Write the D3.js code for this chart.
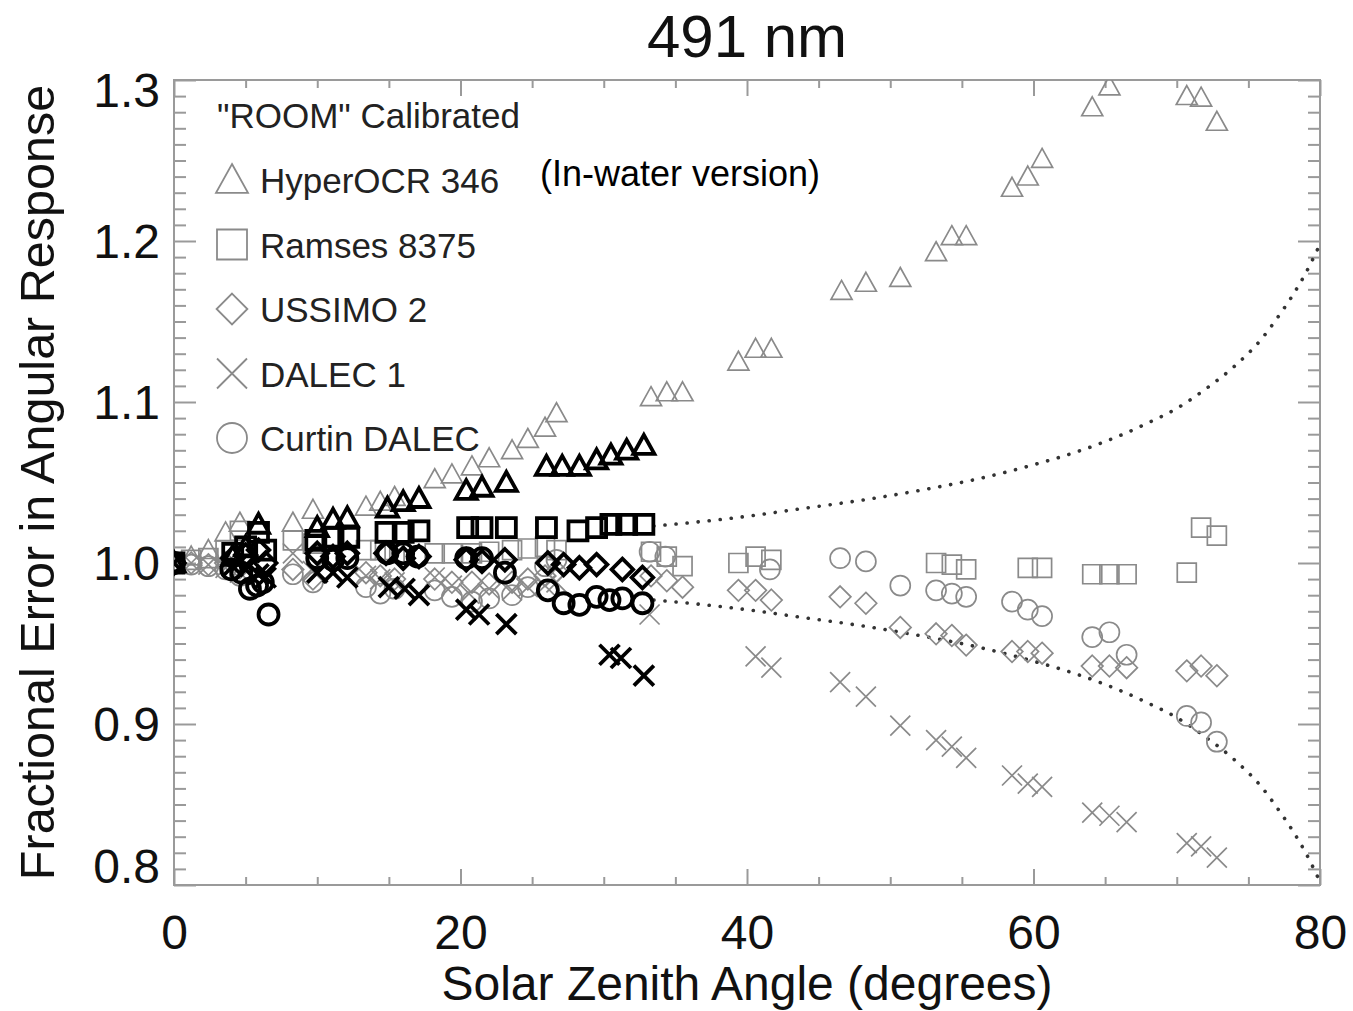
<!DOCTYPE html>
<html>
<head>
<meta charset="utf-8">
<script src="https://cdn.jsdelivr.net/npm/d3@7"></script>
<style>
  html, body { margin: 0; padding: 0; background: #fff; }
  svg { display: block; }
</style>
</head>
<body>
<svg id="chart" width="1353" height="1011"></svg>
<script>
// ---------------- DATA ----------------
const titleText = "491 nm";
const xLabel = "Solar Zenith Angle (degrees)";
const yLabel = "Fractional Error in Angular Response";
const legendTitle = "\"ROOM\" Calibrated";
const noteText = "(In-water version)";
const seriesNames = ["HyperOCR 346", "Ramses 8375", "USSIMO 2", "DALEC 1", "Curtin DALEC"];
const seriesShapes = ["triangle", "square", "diamond", "times", "circle"];

const xTicks = [0, 20, 40, 60, 80];
const xMinorTicks = [5, 10, 15, 25, 30, 35, 45, 50, 55, 65, 70, 75];
const yTicks = [0.8, 0.9, 1.0, 1.1, 1.2, 1.3];
const yTickLabels = ["0.8", "0.9", "1.0", "1.1", "1.2", "1.3"];

// "ROOM" calibrated (thin grey symbols): [angle, fractional error]
const roomHyperOCR = [[0,1.0],[1.2,1.004],[2.4,1.008],[3.6,1.019],[4.6,1.025],[8.3,1.025],[9.7,1.033],[13.4,1.035],[14.4,1.038],[15.4,1.041],[18.2,1.052],[19.4,1.055],[20.8,1.060],[22.0,1.065],[23.6,1.070],[24.7,1.077],[25.9,1.084],[26.7,1.093],[33.3,1.103],[34.4,1.106],[35.5,1.106],[39.4,1.125],[40.6,1.133],[41.7,1.133],[46.6,1.169],[48.3,1.174],[50.7,1.177],[53.2,1.193],[54.3,1.203],[55.3,1.203],[58.5,1.233],[59.6,1.240],[60.6,1.251],[64.1,1.283],[65.3,1.296],[66.5,1.306],[70.7,1.290],[71.7,1.289],[72.8,1.274]];
const roomRamses = [[0,1.0],[1.2,1.002],[2.4,1.003],[3.6,1.008],[4.6,1.020],[8.3,1.014],[9.7,1.012],[13.4,1.008],[14.4,1.008],[15.4,1.006],[18.2,1.006],[19.4,1.006],[20.8,1.006],[22.0,1.007],[23.6,1.008],[24.7,1.009],[25.9,1.010],[26.7,1.008],[33.3,1.007],[34.4,1.004],[35.5,0.998],[39.4,1.000],[40.6,1.004],[41.7,1.002],[53.2,1.000],[54.3,0.999],[55.3,0.996],[59.6,0.997],[60.6,0.997],[64.1,0.993],[65.3,0.993],[66.5,0.993],[70.7,0.994],[71.7,1.022],[72.8,1.017]];
const roomUssimo = [[0,1.0],[1.2,1.0],[2.4,0.999],[3.6,1.0],[4.6,0.997],[8.3,0.996],[9.7,0.990],[13.4,0.994],[14.4,0.992],[15.4,0.990],[18.2,0.990],[19.4,0.988],[20.8,0.988],[22.0,0.987],[23.6,0.988],[24.7,0.990],[25.9,0.992],[26.7,0.995],[33.3,0.992],[34.4,0.989],[35.5,0.985],[39.4,0.983],[40.6,0.983],[41.7,0.977],[46.5,0.979],[48.3,0.975],[50.7,0.960],[53.2,0.956],[54.3,0.955],[55.3,0.949],[58.5,0.945],[59.6,0.945],[60.6,0.944],[64.1,0.936],[65.3,0.936],[66.5,0.935],[70.7,0.933],[71.7,0.936],[72.8,0.930]];
const roomDalec1 = [[0,1.0],[1.2,1.0],[2.4,0.999],[3.6,0.997],[4.6,0.994],[8.3,1.006],[9.7,0.995],[13.4,0.992],[14.4,0.990],[15.4,0.988],[18.2,0.991],[19.4,0.986],[20.6,0.981],[22.0,0.984],[23.6,0.983],[24.7,0.985],[25.9,0.986],[26.7,0.988],[33.2,0.968],[40.6,0.942],[41.7,0.935],[46.5,0.926],[48.3,0.917],[50.7,0.899],[53.2,0.890],[54.3,0.886],[55.3,0.879],[58.5,0.868],[59.6,0.863],[60.6,0.861],[64.1,0.845],[65.3,0.843],[66.5,0.839],[70.7,0.826],[71.7,0.824],[72.8,0.817]];
const roomCurtin = [[0,1.0],[1.2,0.999],[2.4,0.998],[3.6,0.996],[4.6,0.992],[8.3,0.993],[9.7,0.988],[13.4,0.985],[14.4,0.981],[15.4,0.984],[18.2,0.983],[19.4,0.979],[20.8,0.976],[22.0,0.978],[23.6,0.980],[24.7,0.985],[25.9,0.998],[26.7,1.002],[33.2,1.007],[34.3,1.004],[41.6,0.996],[46.5,1.003],[48.3,1.001],[50.7,0.986],[53.2,0.983],[54.3,0.981],[55.3,0.979],[58.5,0.976],[59.6,0.971],[60.6,0.967],[64.1,0.954],[65.3,0.957],[66.5,0.943],[70.7,0.905],[71.7,0.901],[72.8,0.889]];

// In-water (bold black symbols)
const waterHyperOCR = [[0,1.0],[4.1,1.004],[5.0,1.010],[5.9,1.024],[10.0,1.022],[11.1,1.027],[12.1,1.028],[14.9,1.034],[16.0,1.038],[17.1,1.040],[20.4,1.045],[21.5,1.047],[23.2,1.050],[26.0,1.060],[27.1,1.060],[28.3,1.060],[29.5,1.064],[30.5,1.067],[31.6,1.070],[32.8,1.073]];
const waterRamses = [[0,1.0],[4.1,1.006],[5.0,1.010],[5.9,1.019],[6.4,1.008],[9.9,1.014],[11.1,1.016],[12.2,1.016],[14.8,1.019],[16.0,1.019],[17.1,1.020],[20.5,1.022],[21.5,1.022],[23.2,1.022],[26.0,1.022],[28.2,1.020],[29.5,1.022],[30.5,1.024],[31.6,1.024],[32.8,1.024]];
const waterUssimo = [[0,1.0],[4.1,1.003],[5.0,1.005],[5.9,1.008],[6.4,1.0],[10.0,1.006],[11.1,1.004],[12.1,1.006],[14.8,1.006],[16.0,1.003],[17.1,1.004],[20.4,1.002],[21.5,1.001],[23.1,1.002],[26.1,1.000],[27.2,0.999],[28.3,0.997],[29.5,0.999],[31.3,0.996],[32.7,0.991]];
const waterDalec1 = [[0,1.0],[4.1,0.998],[5.0,0.996],[5.9,0.993],[6.4,0.991],[10.0,0.994],[11.1,0.994],[12.1,0.991],[15.0,0.985],[16.1,0.984],[17.1,0.980],[20.4,0.971],[21.3,0.968],[23.2,0.962],[30.4,0.943],[31.2,0.941],[32.8,0.930]];
const waterCurtin = [[0,1.0],[4.0,0.996],[4.7,0.994],[5.3,0.984],[5.8,0.986],[6.2,0.988],[6.6,0.968],[10.0,1.003],[11.1,1.002],[12.1,1.003],[14.9,1.006],[16.0,1.006],[17.0,1.004],[20.4,1.003],[21.5,1.003],[23.1,0.994],[26.1,0.983],[27.2,0.975],[28.3,0.974],[29.5,0.979],[30.4,0.977],[31.3,0.978],[32.7,0.975]];

// dotted envelope curves
const envelopeAngles = [33.5, 36, 40, 44, 48, 52, 56, 60, 63, 66, 68, 70, 72, 74, 76, 77, 78, 79, 80];
const envelopeUpper = [1.023, 1.025, 1.029, 1.034, 1.039, 1.045, 1.052, 1.061, 1.069, 1.079, 1.087, 1.096, 1.108, 1.122, 1.140, 1.152, 1.165, 1.180, 1.198];
const envelopeLower = [0.977, 0.975, 0.971, 0.966, 0.961, 0.955, 0.948, 0.939, 0.931, 0.921, 0.913, 0.904, 0.892, 0.878, 0.860, 0.848, 0.835, 0.820, 0.802];

// ---------------- DRAW ----------------
const svg = d3.select("#chart");
const M = { left: 174, right: 1320, top: 80, bottom: 885 };
const x = d3.scaleLinear().domain([0, 80]).range([M.left, M.right]);
const y = d3.scaleLinear().domain([0.8, 1.3]).range([M.bottom, M.top]);

const FONT = "'Liberation Sans', Arial, Helvetica, sans-serif";
const GREY = "#8a8a8a";
const AXIS = "#9a9a9a";

function shapePath(shape, r) {
  switch (shape) {
    case "triangle": return `M0,${-r*1.0}L${r},${r*0.8}L${-r},${r*0.8}Z`;
    case "square": return `M${-r},${-r}H${r}V${r}H${-r}Z`;
    case "diamond": return `M0,${-r*1.1}L${r*1.1},0L0,${r*1.1}L${-r*1.1},0Z`;
    case "times": return `M${-r},${-r}L${r},${r}M${r},${-r}L${-r},${r}`;
    case "circle": return `M${r},0A${r},${r} 0 1,1 ${-r},0A${r},${r} 0 1,1 ${r},0Z`;
  }
}

svg.append("defs").append("clipPath").attr("id", "plotclip")
  .append("rect").attr("x", M.left).attr("y", M.top)
  .attr("width", M.right - M.left).attr("height", M.bottom - M.top);

// frame
svg.append("rect").attr("x", M.left).attr("y", M.top)
  .attr("width", M.right - M.left).attr("height", M.bottom - M.top)
  .attr("fill", "none").attr("stroke", AXIS).attr("stroke-width", 2);

// axes (ticks inward)
function styleAxis(g) {
  g.select(".domain").remove();
  g.selectAll(".tick line").attr("stroke", AXIS).attr("stroke-width", 2);
  g.selectAll("text").attr("font-family", FONT).attr("font-size", 48).attr("fill", "#111");
}
const xAxisB = svg.append("g").attr("transform", `translate(0,${M.bottom})`)
  .call(d3.axisBottom(x).tickValues(xTicks).tickSize(-16).tickPadding(30).tickFormat(d3.format("d")));
styleAxis(xAxisB);
const xAxisBm = svg.append("g").attr("transform", `translate(0,${M.bottom})`)
  .call(d3.axisBottom(x).tickValues(xMinorTicks).tickSize(-8).tickFormat(""));
styleAxis(xAxisBm);
const xAxisT = svg.append("g").attr("transform", `translate(0,${M.top})`)
  .call(d3.axisTop(x).tickValues(xTicks).tickSize(-16).tickFormat(""));
styleAxis(xAxisT);
const xAxisTm = svg.append("g").attr("transform", `translate(0,${M.top})`)
  .call(d3.axisTop(x).tickValues(xMinorTicks).tickSize(-8).tickFormat(""));
styleAxis(xAxisTm);

const yMinor = d3.range(80, 131).map(v => v / 100).filter(v => Math.round(v * 100) % 10 !== 0);
const yAxisL = svg.append("g").attr("transform", `translate(${M.left},0)`)
  .call(d3.axisLeft(y).tickValues(yTicks).tickSize(-22).tickPadding(14)
    .tickFormat((d, i) => yTickLabels[i]));
styleAxis(yAxisL);
yAxisL.selectAll(".tick text").attr("dy", (d, i) =>
  i === 0 ? "-0.05em" : (i === yTicks.length - 1 ? "0.55em" : "0.35em"));
const yAxisLm = svg.append("g").attr("transform", `translate(${M.left},0)`)
  .call(d3.axisLeft(y).tickValues(yMinor).tickSize(-12).tickFormat(""));
styleAxis(yAxisLm);
const yAxisR = svg.append("g").attr("transform", `translate(${M.right},0)`)
  .call(d3.axisRight(y).tickValues(yTicks).tickSize(-22).tickFormat(""));
styleAxis(yAxisR);
const yAxisRm = svg.append("g").attr("transform", `translate(${M.right},0)`)
  .call(d3.axisRight(y).tickValues(yMinor).tickSize(-12).tickFormat(""));
styleAxis(yAxisRm);

// envelope dotted curves
const plot = svg.append("g").attr("clip-path", "url(#plotclip)");
const line = d3.line().x(d => x(d[0])).y(d => y(d[1])).curve(d3.curveMonotoneX);
[envelopeUpper, envelopeLower].forEach(vals => {
  plot.append("path")
    .attr("d", line(envelopeAngles.map((a, i) => [a, vals[i]])))
    .attr("fill", "none").attr("stroke", "#333").attr("stroke-width", 3.6)
    .attr("stroke-linecap", "round").attr("stroke-dasharray", "0.1,11");
});

// markers
const roomSeries = [roomHyperOCR, roomRamses, roomUssimo, roomDalec1, roomCurtin];
const waterSeries = [waterHyperOCR, waterRamses, waterUssimo, waterDalec1, waterCurtin];
const markerR = { triangle: 10.5, square: 9.5, diamond: 9.8, times: 10, circle: 10 };

function drawSeries(list, color, width) {
  list.forEach((data, si) => {
    const shape = seriesShapes[si];
    plot.append("g").selectAll("path").data(data).join("path")
      .attr("transform", d => `translate(${x(d[0])},${y(d[1])})`)
      .attr("d", shapePath(shape, markerR[shape]))
      .attr("fill", "none").attr("stroke", color).attr("stroke-width", width);
  });
}
drawSeries(roomSeries, GREY, 1.7);
drawSeries(waterSeries, "#000", 3.8);

// legend
const lg = svg.append("g");
lg.append("text").attr("x", 217).attr("y", 128).text(legendTitle)
  .attr("font-family", FONT).attr("font-size", 35).attr("fill", "#222");
seriesNames.forEach((name, i) => {
  const cy = 180 + i * 64.5;
  const shape = seriesShapes[i];
  lg.append("path").attr("transform", `translate(232,${cy})`)
    .attr("d", shapePath(shape, shape === "triangle" ? 16 : (shape === "diamond" ? 14 : 15)))
    .attr("fill", "none").attr("stroke", GREY).attr("stroke-width", 1.8);
  lg.append("text").attr("x", 260).attr("y", cy + 13).text(name)
    .attr("font-family", FONT).attr("font-size", 35).attr("fill", "#222");
});

svg.append("text").attr("x", 540).attr("y", 186).text(noteText)
  .attr("font-family", FONT).attr("font-size", 36).attr("fill", "#000");

// titles
svg.append("text").attr("x", (M.left + M.right) / 2).attr("y", 57).attr("text-anchor", "middle")
  .text(titleText).attr("font-family", FONT).attr("font-size", 60).attr("fill", "#111");
svg.append("text").attr("x", (M.left + M.right) / 2).attr("y", 1000).attr("text-anchor", "middle")
  .text(xLabel).attr("font-family", FONT).attr("font-size", 48).attr("fill", "#111");
svg.append("text").attr("transform", `translate(54,${(M.top + M.bottom) / 2}) rotate(-90)`)
  .attr("text-anchor", "middle").text(yLabel)
  .attr("font-family", FONT).attr("font-size", 48.5).attr("fill", "#111");
</script>
</body>
</html>
